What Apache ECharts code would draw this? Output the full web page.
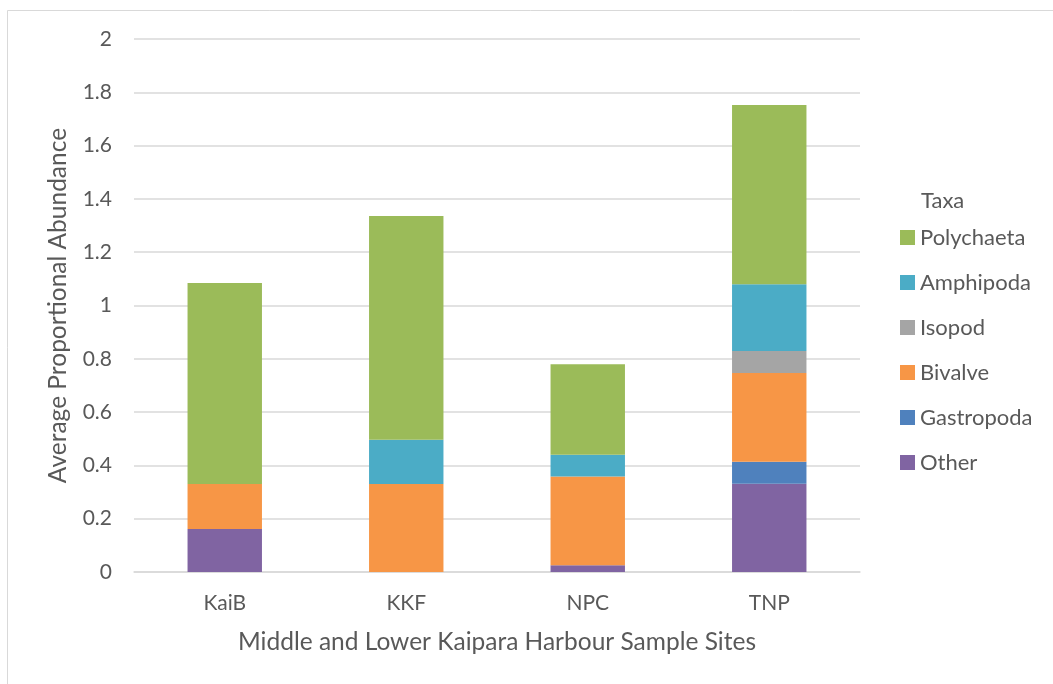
<!DOCTYPE html>
<html>
<head>
<meta charset="utf-8">
<script src="https://cdn.jsdelivr.net/npm/echarts@6/dist/echarts.min.js"></script>
<style>html,body{margin:0;padding:0;background:#fff;}#c{width:1053px;height:684px;}</style>
</head>
<body>
<div id="c"></div>
<script>
const categories = ['KaiB', 'KKF', 'NPC', 'TNP'];
const other      = [0.161, 0, 0.025, 0.331];
const gastropoda = [0, 0, 0, 0.083];
const bivalve    = [0.169, 0.330, 0.333, 0.333];
const isopod     = [0, 0, 0, 0.082];
const amphipoda  = [0, 0.166, 0.082, 0.251];
const polychaeta = [0.754, 0.840, 0.340, 0.672];
const yTicks = [0, 0.2, 0.4, 0.6, 0.8, 1, 1.2, 1.4, 1.6, 1.8, 2];

const FONT = 'Lato';
const TXT = '#595959';
const seriesDefs = [
  ['Other', other, '#8064A2'],
  ['Gastropoda', gastropoda, '#4F81BD'],
  ['Bivalve', bivalve, '#F79646'],
  ['Isopod', isopod, '#A5A5A5'],
  ['Amphipoda', amphipoda, '#4BACC6'],
  ['Polychaeta', polychaeta, '#9BBB59']
];
const chart = echarts.init(document.getElementById('c'), null, {renderer: 'canvas'});
chart.setOption({
  animation: false,
  backgroundColor: '#fff',
  textStyle: {fontFamily: FONT},
  graphic: [{
    type: 'rect', shape: {x: 7.5, y: 10.5, width: 1100, height: 700},
    style: {fill: 'none', stroke: '#D9D9D9', lineWidth: 1}, silent: true, z: -1
  }],
  title: {
    text: 'Taxa', left: 921, top: 189.5, padding: 0,
    textStyle: {fontFamily: FONT, fontSize: 22, lineHeight: 22, fontWeight: 'normal', color: TXT}
  },
  legend: {
    orient: 'vertical', left: 900, top: 226.5, padding: 0,
    itemWidth: 15, itemHeight: 15, itemGap: 23,
    icon: 'rect',
    data: ['Polychaeta', 'Amphipoda', 'Isopod', 'Bivalve', 'Gastropoda', 'Other'],
    textStyle: {fontFamily: FONT, fontSize: 22, lineHeight: 22, color: TXT}
  },
  grid: {left: 134, right: 193, top: 39, bottom: 112, containLabel: false},
  xAxis: {
    type: 'category', data: categories,
    axisLine: {show: true, lineStyle: {color: '#D9D9D9', width: 1.5}},
    axisTick: {show: false},
    axisLabel: {fontFamily: FONT, fontSize: 21, lineHeight: 21, color: TXT, margin: 21},
    name: 'Middle and Lower Kaipara Harbour Sample Sites',
    nameLocation: 'middle', nameGap: 58,
    nameTextStyle: {fontFamily: FONT, fontSize: 24.5, lineHeight: 24.5, color: TXT}
  },
  yAxis: {
    type: 'value', min: 0, max: 2, interval: 0.2,
    axisLine: {show: false}, axisTick: {show: false},
    splitLine: {lineStyle: {color: '#D9D9D9', width: 1.5}},
    axisLabel: {fontFamily: FONT, fontSize: 21, color: TXT, margin: 22,
      formatter: v => { const t = yTicks.find(x => Math.abs(x - v) < 1e-9); return t === undefined ? '' : String(t); }},
    name: 'Average Proportional Abundance',
    nameLocation: 'middle', nameGap: 64, nameRotate: 90,
    nameTextStyle: {fontFamily: FONT, fontSize: 24.5, lineHeight: 24.5, color: TXT}
  },
  series: seriesDefs.map(([name, data, color]) => ({
    name, type: 'bar', stack: 'total', data,
    barWidth: '41%',
    itemStyle: {color},
    emphasis: {disabled: true}
  }))
});
</script>
</body>
</html>
